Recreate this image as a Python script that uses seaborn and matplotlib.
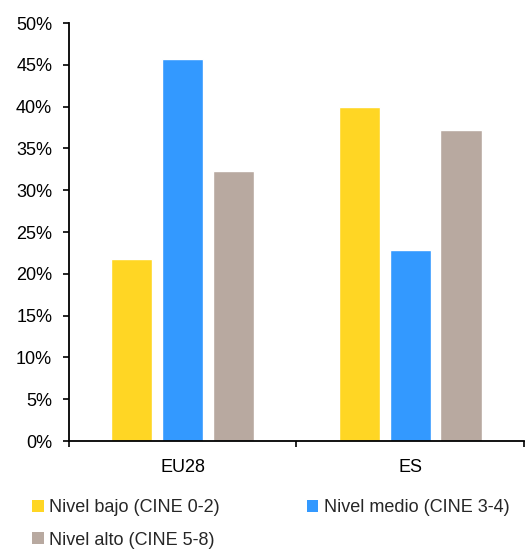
import matplotlib
matplotlib.use("Agg")
import matplotlib.pyplot as plt
from matplotlib.patches import Patch
from matplotlib.ticker import FuncFormatter, FixedLocator
import seaborn as sns
import pandas as pd

# Population share by education level (%)
regions = ["EU28", "ES"]
niveles = ["Nivel bajo (CINE 0-2)", "Nivel medio (CINE 3-4)", "Nivel alto (CINE 5-8)"]
bajo = [21.8, 39.9]
medio = [45.7, 22.8]
alto = [32.3, 37.2]
colores = ["#FFD624", "#3399FF", "#B8A9A0"]
yticks = [0, 5, 10, 15, 20, 25, 30, 35, 40, 45, 50]

rows = []
for nivel, vals in zip(niveles, [bajo, medio, alto]):
    for reg, v in zip(regions, vals):
        rows.append({"region": reg, "nivel": nivel, "valor": v})
df = pd.DataFrame(rows)

sns.set_style("white")
plt.rcParams["font.family"] = ["Liberation Sans", "DejaVu Sans"]

fig = plt.figure(figsize=(5.26, 5.51), dpi=100)
ax = fig.add_axes([0.131, 0.1996, 0.865, 0.7586])

sns.barplot(data=df, x="region", y="valor", hue="nivel", order=regions,
            hue_order=niveles, palette=colores, saturation=1, width=0.67,
            gap=0.19, legend=False, ax=ax)

ax.set_xlim(-0.5, 1.5)
ax.set_ylim(0, 50)
ax.set_yticks(yticks)
ax.yaxis.set_major_formatter(FuncFormatter(lambda v, p: f"{v:.0f}%"))
ax.set_xlabel("")
ax.set_ylabel("")

for side in ["top", "right"]:
    ax.spines[side].set_visible(False)
for side in ["left", "bottom"]:
    ax.spines[side].set_color("black")
    ax.spines[side].set_linewidth(1.3)

ax.tick_params(axis="y", which="major", direction="out", length=4, width=1.2,
               color="black", pad=8, labelsize=13, labelcolor="black", left=True)
ax.tick_params(axis="x", which="major", length=0, pad=13, labelsize=13,
               labelcolor="black")
ax.xaxis.set_minor_locator(FixedLocator([-0.5, 0.5, 1.5]))
ax.tick_params(axis="x", which="minor", direction="out", length=4, width=1.2,
               color="black", bottom=True)

# legend filled column-wise: bajo / alto in the first column, medio in the second
handles = [Patch(facecolor=c, edgecolor="none", label=l) for c, l in zip(colores, niveles)]
order = [0, 2, 1]
fig.legend(handles=[handles[i] for i in order], loc="upper left",
           bbox_to_anchor=(0.061, 0.094), ncol=2, frameon=False, fontsize=13,
           handlelength=0.65, handleheight=0.65, handletextpad=0.3,
           columnspacing=4.8, labelspacing=0.86, borderaxespad=0, borderpad=0)

fig.savefig("out.png", dpi=100)
